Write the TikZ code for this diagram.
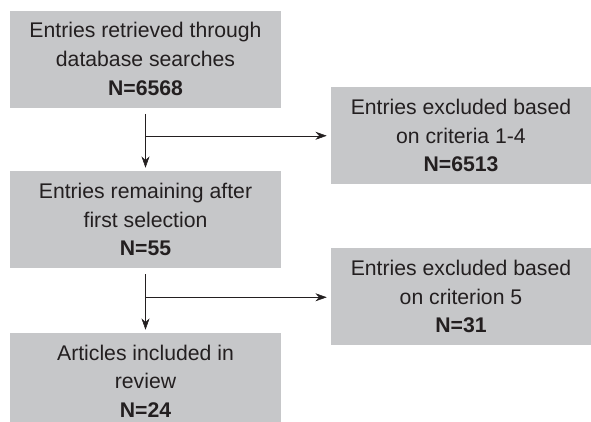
\documentclass[tikz,border=0pt]{standalone}
\usepackage{fontspec}
\setmainfont{Liberation Sans}
\usetikzlibrary{arrows.meta,positioning}
\definecolor{boxgray}{HTML}{C6C7C9}
\definecolor{inkgray}{HTML}{231F20}

\begin{document}
\begin{tikzpicture}[x=0.75pt, y=-0.75pt, every node/.style={font=\fontsize{15.9}{21.5}\selectfont, text=inkgray, align=center}, >={Stealth[length=8.5pt, width=6pt]},
	flowbox/.style={fill=boxgray, minimum width=203.25pt, minimum height=72.75pt, inner sep=0pt},
	sidebox/.style={flowbox, minimum width=195pt}]
	\useasboundingbox (0,0) rectangle (591,421);
	\node[flowbox] (retrieved) at (145.5,59) {Entries retrieved through\\database searches\\\textbf{N=6568}};
	\node[sidebox] (excludedA) at (461,135.5) {Entries excluded based\\on criteria 1-4\\\textbf{N=6513}};
	\node[flowbox] (remaining) at (145.5,219.5) {Entries remaining after\\first selection\\\textbf{N=55}};
	\node[sidebox] (excludedB) at (461,296.5) {Entries excluded based\\on criterion 5\\\textbf{N=31}};
	\node[flowbox, minimum height=72pt] (included) at (145.5,381) {Articles included in\\review\\\textbf{N=24}};
	\coordinate[below=21pt of retrieved] (splitA);
	\coordinate[below=21.75pt of remaining] (splitB);
	\draw[inkgray, ->, shorten <=4.5pt, shorten >=2.25pt] (retrieved) -- (remaining);
	\draw[inkgray, ->, shorten >=3pt] (splitA) -- (splitA -| excludedA.west);
	\draw[inkgray, ->, shorten <=4.5pt, shorten >=2.25pt] (remaining) -- (included);
	\draw[inkgray, ->, shorten >=3pt] (splitB) -- (splitB -| excludedB.west);
\end{tikzpicture}
\end{document}
